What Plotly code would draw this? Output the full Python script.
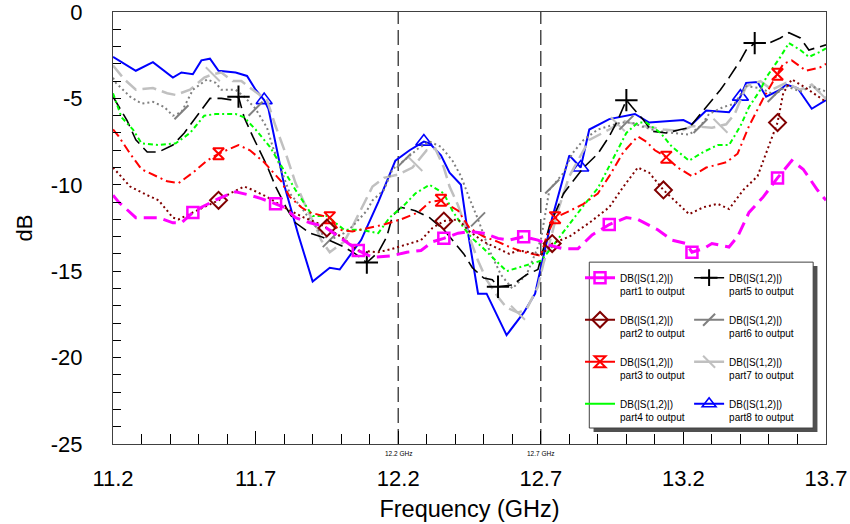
import numpy as np
import plotly.graph_objects as go

# ---------------- data ----------------
f1 = [11.2, 11.22, 11.28, 11.36, 11.41, 11.44, 11.48, 11.51, 11.57, 11.63, 11.68, 11.72, 11.77, 11.8, 11.84,
      11.89, 11.94, 12.0, 12.06, 12.11, 12.18, 12.23, 12.28, 12.32, 12.36, 12.41, 12.45, 12.5, 12.55, 12.59,
      12.64, 12.69, 12.73, 12.78, 12.83, 12.88, 12.94, 13.0, 13.04, 13.11, 13.16, 13.21, 13.23, 13.27, 13.3,
      13.36, 13.39, 13.43, 13.48, 13.53, 13.56, 13.58, 13.62, 13.67, 13.7]
db1 = [-10.6, -11.0, -11.9, -11.9, -12.2, -12.2, -11.6, -11.3, -10.8, -10.4, -10.6, -10.8, -11.1, -11.3, -11.9,
       -12.2, -12.4, -13.1, -13.8, -14.2, -14.1, -13.9, -13.8, -13.3, -13.1, -12.8, -12.7, -12.8, -13.1, -13.2,
       -13.0, -13.2, -13.5, -13.7, -13.7, -12.9, -12.3, -11.9, -12.0, -12.6, -13.2, -13.4, -13.9, -13.7, -13.4,
       -13.6, -13.0, -11.6, -10.7, -9.6, -9.0, -8.6, -9.1, -10.3, -10.9]
m1 = [11.48, 11.77, 12.06, 12.36, 12.64, 12.94, 13.23, 13.53]

f2 = [11.2, 11.26, 11.32, 11.36, 11.41, 11.43, 11.48, 11.53, 11.57, 11.61, 11.66, 11.69, 11.74, 11.81, 11.87,
      11.93, 11.95, 12.0, 12.06, 12.13, 12.18, 12.22, 12.28, 12.32, 12.36, 12.41, 12.45, 12.5, 12.55, 12.59,
      12.62, 12.66, 12.7, 12.74, 12.8, 12.87, 12.94, 12.99, 13.04, 13.08, 13.13, 13.18, 13.22, 13.27, 13.32,
      13.36, 13.41, 13.46, 13.48, 13.53, 13.55, 13.58, 13.63, 13.68, 13.7]
db2 = [-9.0, -10.1, -10.6, -10.9, -11.9, -12.0, -11.6, -11.2, -10.9, -10.5, -10.1, -10.3, -10.7, -11.4, -11.9,
       -12.3, -12.5, -13.0, -13.8, -13.9, -13.7, -13.5, -13.2, -12.5, -12.1, -12.0, -12.7, -13.3, -13.7, -14.0,
       -13.8, -13.9, -14.1, -13.4, -13.0, -12.2, -11.3, -10.1, -9.0, -9.3, -10.3, -11.1, -11.7, -11.3, -11.1,
       -11.4, -10.3, -9.5, -8.6, -6.4, -4.7, -3.9, -4.4, -5.0, -5.2]
m2 = [11.57, 11.95, 12.36, 12.74, 13.13, 13.53]

f3 = [11.2, 11.22, 11.26, 11.3, 11.39, 11.43, 11.48, 11.53, 11.57, 11.61, 11.64, 11.68, 11.73, 11.79, 11.82,
      11.86, 11.89, 11.96, 11.99, 12.04, 12.09, 12.15, 12.21, 12.27, 12.31, 12.35, 12.41, 12.45, 12.5, 12.55,
      12.59, 12.64, 12.7, 12.72, 12.75, 12.79, 12.85, 12.9, 12.94, 12.99, 13.04, 13.07, 13.1, 13.14, 13.18,
      13.23, 13.28, 13.35, 13.39, 13.43, 13.48, 13.53, 13.55, 13.58, 13.63, 13.68, 13.7]
db3 = [-6.8, -7.2, -8.2, -9.1, -9.8, -9.9, -9.3, -8.6, -8.2, -7.9, -7.7, -8.0, -8.7, -9.8, -10.7,
       -11.3, -11.6, -11.9, -12.6, -12.7, -12.5, -12.3, -12.0, -11.6, -11.0, -10.9, -11.5, -12.5, -13.0, -13.3,
       -13.6, -13.9, -14.1, -13.0, -11.9, -11.6, -11.1, -10.5, -9.5, -8.1, -7.2, -7.5, -8.0, -8.4, -9.0,
       -9.5, -9.0, -8.7, -8.2, -6.6, -5.0, -3.6, -3.0, -2.8, -3.4, -3.2, -3.0]
m3 = [11.57, 11.96, 12.35, 12.75, 13.14, 13.53]

f4 = [11.2, 11.23, 11.27, 11.3, 11.36, 11.42, 11.47, 11.52, 11.56, 11.63, 11.66, 11.7, 11.75, 11.8, 11.84,
      11.88, 11.9, 11.95, 12.01, 12.07, 12.13, 12.17, 12.22, 12.26, 12.31, 12.36, 12.39, 12.43, 12.46, 12.5,
      12.55, 12.58, 12.62, 12.66, 12.7, 12.73, 12.79, 12.85, 12.9, 12.97, 13.0, 13.04, 13.07, 13.12, 13.16,
      13.22, 13.27, 13.32, 13.36, 13.4, 13.43, 13.47, 13.49, 13.54, 13.57, 13.61, 13.64, 13.68, 13.7]
db4 = [-4.7, -6.1, -6.8, -7.6, -7.7, -7.6, -7.0, -6.0, -5.9, -5.9, -6.1, -6.8, -7.8, -9.2, -10.3,
       -11.3, -11.8, -11.8, -12.6, -12.6, -12.8, -11.9, -11.2, -10.5, -10.0, -10.5, -11.5, -12.5, -13.1, -13.7,
       -14.5, -15.0, -14.8, -14.6, -14.4, -13.8, -12.5, -11.2, -10.2, -8.0, -7.0, -6.4, -6.4, -7.0, -7.8,
       -8.6, -8.1, -7.7, -7.7, -6.6, -5.5, -4.5, -3.8, -2.6, -1.8, -2.2, -2.6, -2.3, -2.1]

f5 = [11.2, 11.25, 11.28, 11.32, 11.36, 11.41, 11.45, 11.5, 11.54, 11.58, 11.62, 11.64, 11.66, 11.69, 11.74,
      11.77, 11.81, 11.84, 11.89, 11.93, 11.97, 12.01, 12.05, 12.09, 12.13, 12.16, 12.18, 12.21, 12.26, 12.31,
      12.36, 12.39, 12.43, 12.46, 12.5, 12.53, 12.55, 12.6, 12.65, 12.69, 12.71, 12.73, 12.78, 12.85, 12.9,
      12.94, 12.97, 13.0, 13.02, 13.06, 13.09, 13.14, 13.19, 13.22, 13.26, 13.29, 13.33, 13.36, 13.4, 13.42,
      13.45, 13.5, 13.54, 13.57, 13.61, 13.64, 13.68, 13.7]
db5 = [-4.9, -6.3, -7.4, -8.1, -8.1, -7.7, -7.0, -5.9, -5.0, -5.0, -5.1, -4.9, -6.1, -7.2, -8.9,
       -10.1, -11.4, -12.2, -12.8, -13.0, -13.3, -13.6, -14.0, -14.5, -13.9, -13.0, -11.8, -11.3, -11.5, -11.9,
       -12.6, -13.2, -14.0, -14.8, -15.4, -15.5, -15.9, -15.8, -15.2, -14.9, -13.6, -12.4, -10.5, -9.0, -8.2,
       -7.2, -6.25, -5.1, -5.5, -6.25, -6.9, -7.0, -6.8, -6.7, -5.9, -5.3, -4.5, -3.8, -2.8, -2.2,
       -1.8, -1.8, -1.5, -1.2, -1.5, -2.2, -2.0, -1.9]
m5 = [11.64, 12.09, 12.55, 13.0, 13.45]

f6 = [11.2, 11.21, 11.26, 11.3, 11.34, 11.38, 11.41, 11.44, 11.48, 11.53, 11.56, 11.58, 11.63, 11.66, 11.7,
      11.74, 11.76, 11.79, 11.82, 11.86, 11.89, 11.93, 11.96, 12.01, 12.04, 12.09, 12.11, 12.15, 12.18, 12.22,
      12.27, 12.31, 12.35, 12.39, 12.42, 12.45, 12.48, 12.52, 12.56, 12.6, 12.65, 12.7, 12.73, 12.78, 12.81,
      12.85, 12.9, 12.94, 12.98, 13.02, 13.05, 13.11, 13.16, 13.22, 13.26, 13.29, 13.34, 13.38, 13.42, 13.47,
      13.52, 13.56, 13.61, 13.65, 13.7]
db6 = [-3.8, -4.1, -4.9, -5.3, -5.2, -5.5, -6.0, -5.8, -4.5, -3.9, -4.1, -4.5, -4.5, -4.9, -5.6,
       -6.7, -7.8, -9.1, -10.5, -11.3, -12.0, -12.8, -13.2, -12.8, -12.4, -11.5, -10.9, -10.3, -9.1, -8.6,
       -7.9, -7.5, -7.8, -8.6, -9.5, -10.8, -12.0, -13.8, -15.2, -16.0, -15.2, -13.2, -10.3, -9.3, -8.2,
       -7.4, -6.8, -6.6, -6.4, -6.4, -6.6, -6.9, -7.0, -7.1, -6.6, -5.9, -5.5, -5.3, -4.3, -4.4,
       -4.8, -4.3, -4.6, -4.3, -4.6]
m6 = [11.44, 11.70, 11.96, 12.22, 12.48, 12.74, 13.0, 13.26, 13.52]

f7 = [11.2, 11.24, 11.28, 11.34, 11.39, 11.42, 11.47, 11.52, 11.55, 11.58, 11.62, 11.65, 11.69, 11.74, 11.77,
      11.81, 11.84, 11.88, 11.91, 11.93, 11.96, 12.01, 12.04, 12.08, 12.11, 12.15, 12.2, 12.25, 12.3, 12.33,
      12.36, 12.38, 12.41, 12.44, 12.48, 12.51, 12.55, 12.58, 12.62, 12.65, 12.69, 12.71, 12.73, 12.76, 12.8,
      12.87, 12.94, 12.99, 13.01, 13.06, 13.13, 13.19, 13.23, 13.3, 13.35, 13.38, 13.42, 13.47, 13.51, 13.56,
      13.61, 13.65, 13.68, 13.7]
db7 = [-3.1, -3.9, -4.5, -4.4, -4.7, -4.8, -4.5, -3.8, -3.6, -3.5, -4.0, -4.0, -4.5, -5.1, -6.6,
       -8.4, -9.9, -11.4, -12.4, -13.2, -13.9, -13.3, -12.4, -11.1, -10.1, -9.6, -9.4, -9.0, -8.0, -7.9,
       -9.0, -10.1, -11.2, -12.6, -14.4, -15.5, -16.5, -17.1, -17.4, -17.2, -15.9, -14.5, -13.4, -11.5, -9.5,
       -7.4, -6.8, -6.3, -6.4, -6.6, -6.8, -6.9, -6.6, -6.7, -6.5, -5.9, -4.3, -4.0, -4.5, -4.1,
       -4.5, -4.2, -4.7, -5.0]
m7 = [11.55, 11.91, 12.26, 12.62, 12.97, 13.33, 13.68]

f8 = [11.2, 11.24, 11.28, 11.34, 11.41, 11.44, 11.48, 11.51, 11.54, 11.57, 11.63, 11.67, 11.7, 11.73, 11.745,
      11.8, 11.85, 11.9, 11.96, 11.995, 12.07, 12.13, 12.19, 12.24, 12.29, 12.31, 12.35, 12.38, 12.42, 12.44,
      12.48, 12.51, 12.58, 12.64, 12.68, 12.7, 12.74, 12.8, 12.84, 12.87, 12.94, 13.03, 13.08, 13.2, 13.23,
      13.28, 13.36, 13.4, 13.42, 13.46, 13.49, 13.54, 13.56, 13.6, 13.65, 13.7]
db8 = [-2.6, -3.0, -3.4, -2.9, -3.8, -3.5, -3.6, -2.8, -2.7, -3.4, -3.5, -3.7, -4.5, -5.1, -5.6,
       -10.0, -12.9, -15.6, -14.8, -14.9, -13.2, -11.0, -8.6, -8.0, -7.5, -7.6, -8.3, -9.3, -10.0, -12.3,
       -16.3, -16.3, -18.7, -17.4, -16.3, -14.8, -11.9, -8.3, -9.0, -6.8, -6.2, -5.9, -6.4, -6.25, -6.5,
       -5.7, -5.8, -4.9, -4.1, -4.05, -4.9, -4.5, -4.2, -4.4, -5.6, -5.1]
m8 = [11.73, 12.29, 12.84, 13.4]

marker_lines = [12.2, 12.7]
marker_line_labels = ["12.2 GHz", "12.7 GHz"]
x_ticks = [11.2, 11.7, 12.2, 12.7, 13.2, 13.7]
x_ticktext = ["11.2", "11.7", "12.2", "12.7", "13.2", "13.7"]
y_ticks = [-25, -20, -15, -10, -5, 0]
y_ticktext = ["-25", "-20", "-15", "-10", "-5", "0"]
names = ["part1", "part2", "part3", "part4", "part5", "part6", "part7", "part8"]

# ---------------- styles ----------------
FONT = "Arial, 'Liberation Sans', sans-serif"
series = [
    dict(f=f1, db=db1, m=m1, color="#ff00ff", width=3, dash="13px,7px", sym="square-open", msize=11, mlw=2.5),
    dict(f=f2, db=db2, m=m2, color="#800000", width=2, dash="2px,3px", sym="diamond-open", msize=13, mlw=2),
    dict(f=f3, db=db3, m=m3, color="#ff0000", width=2, dash="9px,4px,2px,4px", sym="hourglass-open", msize=11, mlw=2),
    dict(f=f4, db=db4, m=None, color="#00ff00", width=2, dash="5px,3px,2px,3px", sym=None, msize=0, mlw=0),
    dict(f=f5, db=db5, m=m5, color="#000000", width=1.6, dash="14px,6px", sym="cross-thin", msize=16, mlw=2),
    dict(f=f6, db=db6, m=m6, color="#808080", width=2, dash="2px,3px", sym="line-ne", msize=14, mlw=2),
    dict(f=f7, db=db7, m=m7, color="#c0c0c0", width=2.5, dash="14px,6px", sym="line-nw", msize=14, mlw=2),
    dict(f=f8, db=db8, m=m8, color="#0000ff", width=2, dash="solid", sym="triangle-up-open", msize=14, mlw=1.6),
]

fig = go.Figure()

# curves (drawn back to front: part8 ... part1)
for i in reversed(range(8)):
    s = series[i]
    fig.add_trace(go.Scatter(x=s["f"], y=s["db"], mode="lines", showlegend=False, hoverinfo="skip",
                             line=dict(color=s["color"], width=s["width"], dash=s["dash"])))
    if s["m"] is not None:
        my = np.interp(s["m"], s["f"], s["db"])
        fig.add_trace(go.Scatter(x=s["m"], y=my, mode="markers", showlegend=False, hoverinfo="skip",
                                 marker=dict(symbol=s["sym"], size=s["msize"], color=s["color"],
                                             line=dict(color=s["color"], width=s["mlw"]))))

# legend entries: parts 1-4 in the first legend column, parts 5-8 in the second
for i in range(8):
    s = series[i]
    label = "DB(|S(1,2)|)<br>%s to output<br> " % names[i]
    lg = "legend" if i < 4 else "legend2"
    msz = min(s["msize"], 12)
    if s["sym"]:
        fig.add_trace(go.Scatter(x=[None], y=[None], mode="lines+markers", name=label, legend=lg,
                                 line=dict(color=s["color"], width=s["width"], dash="solid"),
                                 marker=dict(symbol=s["sym"], size=msz, color=s["color"],
                                             line=dict(color=s["color"], width=s["mlw"]))))
    else:
        fig.add_trace(go.Scatter(x=[None], y=[None], mode="lines", name=label, legend=lg,
                                 line=dict(color=s["color"], width=s["width"], dash="solid")))

# dashed frequency markers
for xv, lab in zip(marker_lines, marker_line_labels):
    fig.add_shape(type="line", xref="x", yref="paper", x0=xv, x1=xv, y0=0, y1=1,
                  line=dict(color="#202020", width=1.2, dash="15px,6px"), layer="below")
    fig.add_annotation(x=xv, xref="x", y=0, yref="paper", yanchor="top", yshift=-4,
                       text=lab, showarrow=False, font=dict(family=FONT, size=6.5, color="#000000"))

# legend frame with its shadow
BX0, BX1, BY0, BY1 = 0.668, 0.982, 0.037, 0.421
fig.add_shape(type="rect", xref="paper", yref="paper", x0=BX0 + 0.006, x1=BX1 + 0.006, y0=BY0 - 0.009, y1=BY1 - 0.009,
              line=dict(width=0), fillcolor="#505050", layer="above")
fig.add_shape(type="rect", xref="paper", yref="paper", x0=BX0, x1=BX1, y0=BY0, y1=BY1,
              line=dict(width=1, color="#404040"), fillcolor="white", layer="above")

leg_common = dict(orientation="v", valign="top", bgcolor="rgba(0,0,0,0)", borderwidth=0,
                  yanchor="top", xanchor="left", tracegroupgap=0,
                  font=dict(family=FONT, size=10, color="#000000"))

fig.update_layout(
    width=850, height=524,
    margin=dict(l=113, r=24, t=12, b=80, autoexpand=False),
    paper_bgcolor="white", plot_bgcolor="white",
    font=dict(family=FONT, color="#000000"),
    showlegend=True,
    legend=dict(x=0.655, y=0.415, **leg_common),
    legend2=dict(x=0.808, y=0.415, **leg_common),
    xaxis=dict(range=[11.2, 13.7], showgrid=False, zeroline=False, automargin=False,
               showline=True, linecolor="#404040", linewidth=1, mirror=True,
               tickmode="array", tickvals=x_ticks, ticktext=x_ticktext,
               ticks="inside", ticklen=13, tickcolor="#000000", tickwidth=1,
               minor=dict(dtick=0.1, tick0=11.2, ticks="inside", ticklen=10, tickcolor="#000000"),
               tickfont=dict(family=FONT, size=22), ticklabelstandoff=15, ticklabeloverflow="allow",
               title=dict(text="Frequency (GHz)", font=dict(family=FONT, size=23.5), standoff=10)),
    yaxis=dict(range=[-25, 0], showgrid=False, zeroline=False, automargin=False,
               showline=True, linecolor="#404040", linewidth=1, mirror=True,
               tickmode="array", tickvals=y_ticks, ticktext=y_ticktext,
               ticks="inside", ticklen=8, tickcolor="#000000", tickwidth=1,
               minor=dict(dtick=1, tick0=0, ticks="inside", ticklen=8, tickcolor="#000000"),
               tickfont=dict(family=FONT, size=22), ticklabelstandoff=25, ticklabeloverflow="allow",
               title=dict(text="dB", font=dict(family=FONT, size=22), standoff=12)),
)

fig.write_html("out.html")
